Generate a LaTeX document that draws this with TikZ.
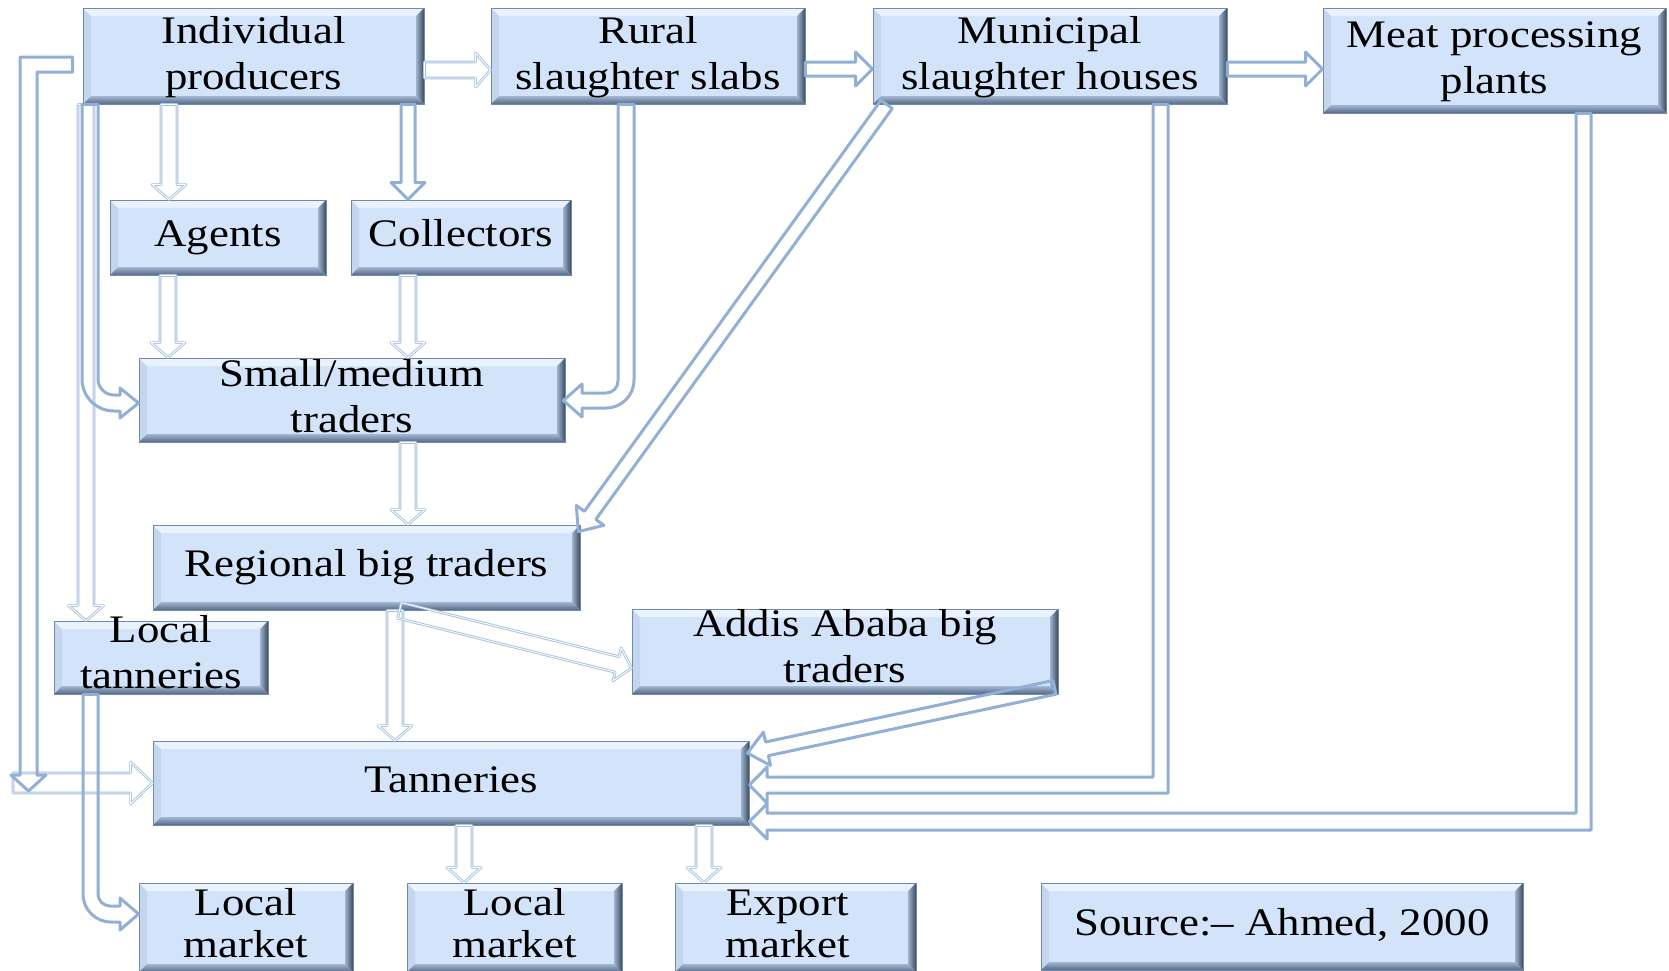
\documentclass[tikz,border=0pt]{standalone}
\usepackage{fontspec}
\setmainfont{Liberation Serif}[FakeStretch=1.15]
\usetikzlibrary{calc}
\definecolor{boxfill}{HTML}{D3E4FA}
\definecolor{bord}{HTML}{6F8AAB}
\definecolor{bvtop}{HTML}{E9F2FD}
\definecolor{bvleft}{HTML}{C3D6EE}
\definecolor{bvrdark}{HTML}{3C4C60}
\definecolor{bvrlight}{HTML}{9FB4CE}
\definecolor{bvbdark}{HTML}{55698A}
\definecolor{bvblight}{HTML}{A3B7D0}
\definecolor{arc}{HTML}{92B0D6}
\definecolor{thc}{HTML}{A4BFDF}
\newcommand\sarrow[6][]{%
  \coordinate (sA) at #5; \coordinate (sB) at #6;
  \coordinate (sC) at ($(sB)!#3!(sA)$);
  \draw[#1] ($(sA)!#2!90:(sB)$) -- ($(sC)!#2!90:(sB)$) -- ($(sC)!#4!90:(sB)$) -- (sB)
    -- ($(sC)!#4!-90:(sB)$) -- ($(sC)!#2!-90:(sB)$) -- ($(sA)!#2!-90:(sB)$) -- cycle;}
\newcommand\tkarrow[2]{\sarrow[thickar]{7pt}{17pt}{17pt}{#1}{#2}}
\newcommand\tnarrow[2]{\sarrow[thinar]{8pt}{15pt}{17pt}{#1}{#2}}
\tikzset{
  bbox/.style={draw=bord, line width=0.8pt, fill=boxfill, inner sep=0pt,
    path picture={
      \fill[bvleft] (path picture bounding box.north west) -- (path picture bounding box.south west)
        -- ([shift={(8pt,8pt)}]path picture bounding box.south west)
        -- ([shift={(8pt,-8pt)}]path picture bounding box.north west) -- cycle;
      \fill[bvtop] (path picture bounding box.north west) -- (path picture bounding box.north east)
        -- ([shift={(-8pt,-8pt)}]path picture bounding box.north east)
        -- ([shift={(8pt,-8pt)}]path picture bounding box.north west) -- cycle;
      \shade[left color=bvrlight, right color=bvrdark] (path picture bounding box.north east)
        -- (path picture bounding box.south east)
        -- ([shift={(-8pt,8pt)}]path picture bounding box.south east)
        -- ([shift={(-8pt,-8pt)}]path picture bounding box.north east) -- cycle;
      \shade[top color=bvblight, bottom color=bvbdark] (path picture bounding box.south west)
        -- (path picture bounding box.south east)
        -- ([shift={(-8pt,8pt)}]path picture bounding box.south east)
        -- ([shift={(8pt,8pt)}]path picture bounding box.south west) -- cycle;
    }},
  lbl/.style={inner sep=0pt, align=center, font=\fontsize{39}{46}\selectfont},
  txt/.style={inner sep=0pt, font=\fontsize{39}{46}\selectfont, anchor=base},
  thickar/.style={draw=arc, line width=3pt, line join=round},
  thinar/.style={draw=thc, line width=0.9pt, double=white, double distance=0.9pt, line join=round}
}
\begin{document}
\begin{tikzpicture}[x=1pt, y=-1pt]
\useasboundingbox (0,0) rectangle (1669,970);
\fill[white] (0,0) rectangle (1669,970);
% boxes
\node[bbox, minimum width=341pt, minimum height=96pt] (ip) at (253.5,56) {};
\node[bbox, minimum width=314pt, minimum height=96pt] (rss) at (648,56) {};
\node[bbox, minimum width=354pt, minimum height=96pt] (msh) at (1050,56) {};
\node[bbox, minimum width=343pt, minimum height=105pt] (mpp) at (1494.5,60.5) {};
\node[bbox, minimum width=216pt, minimum height=75pt] (ag) at (218,237.5) {};
\node[bbox, minimum width=220pt, minimum height=75pt] (col) at (461,237.5) {};
\node[bbox, minimum width=426pt, minimum height=84pt] (smt) at (352,400) {};
\node[bbox, minimum width=427pt, minimum height=85pt] (rbt) at (366.5,567.5) {};
\node[bbox, minimum width=214pt, minimum height=73pt] (lt) at (161,657.5) {};
\node[bbox, minimum width=426pt, minimum height=85pt] (aabt) at (845,651.5) {};
\node[bbox, minimum width=596pt, minimum height=84pt] (tann) at (451,783) {};
\node[bbox, minimum width=214pt, minimum height=89pt] (lm1) at (246,927.5) {};
\node[bbox, minimum width=215pt, minimum height=89pt] (lm2) at (514.5,927.5) {};
\node[bbox, minimum width=241pt, minimum height=89pt] (em) at (795.5,927.5) {};
\node[bbox, minimum width=482pt, minimum height=87pt] (src) at (1282,926.5) {};
% texts
\node[lbl] (ipt) at ([yshift=-1.5pt]ip.center) {\strut Individual\\producers\strut};
\node[lbl] (rsst) at ([yshift=-1pt]rss.center) {\strut Rural\\slaughter slabs\strut};
\node[lbl] (msht) at ([yshift=-1pt]msh.center) {\strut Municipal\\slaughter houses\strut};
\node[lbl] (mppt) at ([yshift=-1pt]mpp.center) {\strut Meat processing\\plants\strut};
\node[lbl] (agt) at (ag.center) {\strut Agents\strut};
\node[lbl] (colt) at (col.center) {\strut Collectors\strut};
\node[lbl] (smtt) at (smt.center) {\strut Small/medium\\traders\strut};
\node[lbl] (rbtt) at (rbt.center) {\strut Regional big traders\strut};
\node[lbl] (ltt) at ([yshift=1pt]lt.center) {\strut Local\\tanneries\strut};
\node[lbl] (aabtt) at ([yshift=1pt]aabt.center) {\strut Addis Ababa big\\traders\strut};
\node[lbl] (tannt) at (tann.center) {\strut Tanneries\strut};
\node[lbl] (srct) at (src.center) {\strut Source:-- Ahmed, 2000\strut};
\node[txt] (lm1a) at ([yshift=-33pt]lm1.north) {Local};
\node[txt] (lm1b) at ([yshift=-75pt]lm1.north) {market};
\node[txt] (lm2a) at ([yshift=-33pt]lm2.north) {Local};
\node[txt] (lm2b) at ([yshift=-75pt]lm2.north) {market};
\node[txt] (ema) at ([shift={(-8pt,-33pt)}]em.north) {Export};
\node[txt] (emb) at ([shift={(-8pt,-75pt)}]em.north) {market};
% straight arrows
\tnarrow{([yshift=-14pt]ip.east)}{([yshift=-14pt]rss.west)}
\tkarrow{([yshift=-13pt]rss.east)}{([yshift=-13pt]msh.west)}
\tkarrow{([yshift=-13pt]msh.east)}{([yshift=-8.5pt]mpp.west)}
\tnarrow{([xshift=-84.5pt]ip.south)}{([xshift=-49pt]ag.north)}
\tkarrow{([xshift=154.5pt]ip.south)}{([xshift=-53pt]col.north)}
\tnarrow{([xshift=-50pt]ag.south)}{([xshift=-184pt]smt.north)}
\tnarrow{([xshift=-53pt]col.south)}{([xshift=56pt]smt.north)}
\tnarrow{([xshift=56pt]smt.south)}{([xshift=41.5pt]rbt.north)}
\tnarrow{([xshift=28.5pt]rbt.south)}{([xshift=-56pt]tann.north)}
\tnarrow{([xshift=33pt]rbt.south)}{([yshift=-16.5pt]aabt.west)}
\sarrow[thickar]{7pt}{20pt}{17pt}{([xshift=14pt]msh.south west)}{([shift={(-2pt,-7pt)}]rbt.north east)}
\sarrow[thickar]{7pt}{20pt}{17pt}{([shift={(-4pt,7pt)}]aabt.south east)}{([shift={(-2pt,30pt)}]tann.east)}
\tnarrow{([xshift=13pt]tann.south)}{([xshift=-50.5pt]lm2.north)}
\tnarrow{([xshift=253pt]tann.south)}{([xshift=-91.5pt]em.north)}
\sarrow[thinar]{8pt}{15pt}{17.5pt}{([xshift=-167.5pt]ip.south)}{([xshift=-75pt]lt.north)}
\coordinate (lstart) at (13,783);
\sarrow[thinar]{10pt}{22pt}{21pt}{(lstart)}{(tann.west)}
% loop from individual producers down the left side
\draw[thickar] ([shift={(-10pt,-1pt)}]ip.west) -- (20,57) -- (20,775) -- (11,775) -- (28.5,791)
  -- (46,775) -- (37,775) -- (37,72) -- ([shift={(-10pt,-16pt)}]ip.west) -- cycle;
% individual producers -> small/medium traders
\draw[thickar] ([xshift=-171.5pt]ip.south) -- (82,379) .. controls (82,396.7) and (96.3,411) .. (114,411)
  -- (120,411) -- (120,418) -- ([yshift=-3pt]smt.west) -- (120,388) -- (120,395) -- (114,395)
  .. controls (105.2,395) and (98,387.8) .. (98,379) -- ([xshift=-155.5pt]ip.south) -- cycle;
% rural slabs -> small/medium traders
\draw[thickar] ([xshift=-30pt]rss.south) -- (618,381) .. controls (618,387.6) and (612.6,393) .. (606,393)
  -- (582,393) -- (582,384) -- ([shift={(-2pt,-0.5pt)}]smt.east) -- (582,417) -- (582,408) -- (606,408)
  .. controls (621.5,408) and (634,395.5) .. (634,380) -- ([xshift=-14pt]rss.south) -- cycle;
% municipal -> tanneries
\draw[thickar] ([xshift=103pt]msh.south) -- (1153,777) -- (767,777) -- (767,767) -- ([yshift=-2pt]tann.east)
  -- (767,803) -- (767,793) -- (1168,793) -- ([xshift=118pt]msh.south) -- cycle;
% meat processing -> tanneries
\draw[thickar] ([xshift=81.5pt]mpp.south) -- (1576,813) -- (767,813) -- (767,804) -- ([yshift=-38.5pt]tann.east)
  -- (767,839) -- (767,830) -- (1591,830) -- ([xshift=96.5pt]mpp.south) -- cycle;
% local tanneries -> local market
\draw[thickar] ([xshift=-78pt]lt.south) -- (83,894) .. controls (83,909.5) and (95.5,922) .. (111,922)
  -- (120,922) -- (120,930) -- ([yshift=13.5pt]lm1.west) -- (120,898) -- (120,906) -- (110,906)
  .. controls (103.4,906) and (98,900.6) .. (98,894) -- ([xshift=-63pt]lt.south) -- cycle;
\end{tikzpicture}
\end{document}
